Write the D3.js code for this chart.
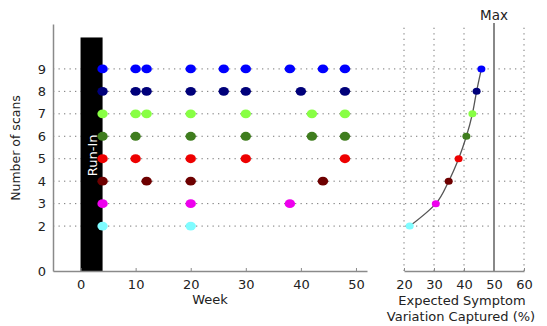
<!DOCTYPE html>
<html>
<head>
<meta charset="utf-8">
<script src="https://cdn.jsdelivr.net/npm/d3@7"></script>
<style>
  body { margin: 0; background: #fff; }
  text { font-family: "DejaVu Sans", sans-serif; fill: #222; }
</style>
</head>
<body>
<div id="chart"></div>
<script>
const width = 547;
const height = 326;

// data
const scanCounts = [9, 8, 7, 6, 5, 4, 3, 2];
const scanWeeks = [
    [4, 10, 12, 20, 26, 30, 38, 44, 48],
    [4, 10, 12, 20, 26, 30, 40, 48],
    [4, 10, 12, 20, 30, 42, 48],
    [4, 10, 20, 30, 42, 48],
    [4, 10, 20, 30, 48],
    [4, 12, 20, 44],
    [4, 20, 38],
    [4, 20]
];
const scanColors = ["#0000ff", "#00007a", "#88ff44", "#3f7d1e", "#ee0000", "#6e0000", "#ee00ee", "#7ffcff"];
const variationCaptured = [45.8, 44.2, 42.8, 40.8, 38.2, 34.9, 30.6, 21.9];
const runIn = { start: 0, end: 4, top: 10.4 };
const maxVariation = 50;
const weekTicks = [0, 10, 20, 30, 40, 50];
const scanTicks = [0, 2, 3, 4, 5, 6, 7, 8, 9];
const pctTicks = [20, 30, 40, 50, 60];
const pctGrid = [20, 30, 40, 60];

const svg = d3.select("#chart")
    .append("svg")
    .attr("width", width)
    .attr("height", height);

const x = d3.scaleLinear().domain([-5, 52]).range([53, 367]);
const y = d3.scaleLinear().domain([0, 11]).range([271, 24]);
const xPct = d3.scaleLinear().domain([20, 60]).range([404, 524]);

const axisColor = "#8a8a8a";
const dotted = "1.3,4.2";

// horizontal dotted grid across both panels
svg.append("g")
    .selectAll("line")
    .data(scanCounts)
    .join("line")
    .attr("x1", x.range()[0])
    .attr("x2", xPct.range()[1])
    .attr("y1", d => y(d))
    .attr("y2", d => y(d))
    .attr("stroke", "#777")
    .attr("stroke-width", 1)
    .attr("stroke-dasharray", dotted);

// vertical dotted grid on the right panel
svg.append("g")
    .selectAll("line")
    .data(pctGrid)
    .join("line")
    .attr("x1", d => xPct(d))
    .attr("x2", d => xPct(d))
    .attr("y1", y(0))
    .attr("y2", y(11))
    .attr("stroke", "#777")
    .attr("stroke-width", 1)
    .attr("stroke-dasharray", dotted);

// run-in bar
svg.append("rect")
    .attr("x", x(runIn.start))
    .attr("y", y(runIn.top))
    .attr("width", x(runIn.end) - x(runIn.start))
    .attr("height", y(0) - y(runIn.top))
    .attr("fill", "#000");

svg.append("text")
    .attr("transform", `translate(${(x(runIn.start) + x(runIn.end)) / 2 + 5},${y(5.15)}) rotate(-90)`)
    .attr("text-anchor", "middle")
    .style("font-size", "13px")
    .style("fill", "#fff")
    .text("Run-In");

// axes
function styleAxis(g) {
    g.select(".domain").attr("stroke", axisColor).attr("stroke-width", 1.5);
    g.selectAll(".tick line").attr("stroke", axisColor);
    g.selectAll(".tick text").style("font-size", "13px").style("fill", "#222")
        .style("font-family", "'DejaVu Sans', sans-serif");
}

svg.append("g")
    .attr("transform", `translate(0,${y(0)})`)
    .call(d3.axisBottom(x).tickValues(weekTicks).tickSizeInner(-3).tickSizeOuter(0).tickPadding(9))
    .call(styleAxis);

svg.append("g")
    .attr("transform", `translate(${x.range()[0]},0)`)
    .call(d3.axisLeft(y).tickValues(scanTicks).tickSize(0).tickPadding(7))
    .call(styleAxis);

svg.append("g")
    .attr("transform", `translate(0,${y(0)})`)
    .call(d3.axisBottom(xPct).tickValues(pctTicks).tickSizeInner(-3).tickSizeOuter(0).tickPadding(9))
    .call(styleAxis);

// scan schedule dots
scanCounts.forEach((s, i) => {
    svg.append("g")
        .selectAll("ellipse")
        .data(scanWeeks[i])
        .join("ellipse")
        .attr("cx", d => x(d))
        .attr("cy", y(s))
        .attr("rx", 5.2)
        .attr("ry", 4.4)
        .attr("fill", scanColors[i]);
});

// max line
svg.append("line")
    .attr("x1", xPct(maxVariation))
    .attr("x2", xPct(maxVariation))
    .attr("y1", y(0))
    .attr("y2", y(11.05))
    .attr("stroke", "#888")
    .attr("stroke-width", 2);

svg.append("text")
    .attr("x", xPct(maxVariation))
    .attr("y", 20)
    .attr("text-anchor", "middle")
    .style("font-size", "13.5px")
    .text("Max");

// expected variation curve
const curvePts = scanCounts.map((s, i) => ({ s, v: variationCaptured[i] }));

svg.append("path")
    .datum(curvePts)
    .attr("fill", "none")
    .attr("stroke", "#555")
    .attr("stroke-width", 1.3)
    .attr("d", d3.line()
        .x(d => xPct(d.v))
        .y(d => y(d.s))
        .curve(d3.curveMonotoneY));

svg.append("g")
    .selectAll("ellipse")
    .data(curvePts)
    .join("ellipse")
    .attr("cx", d => xPct(d.v))
    .attr("cy", d => y(d.s))
    .attr("rx", 4)
    .attr("ry", 3.5)
    .attr("fill", (d, i) => scanColors[i]);

// labels
svg.append("text")
    .attr("x", (x.range()[0] + x.range()[1]) / 2)
    .attr("y", 304)
    .attr("text-anchor", "middle")
    .style("font-size", "13px")
    .text("Week");

svg.append("text")
    .attr("transform", `translate(20,${148}) rotate(-90)`)
    .attr("text-anchor", "middle")
    .style("font-size", "12.5px")
    .text("Number of scans");

svg.append("text")
    .attr("x", 462)
    .attr("y", 305)
    .attr("text-anchor", "middle")
    .style("font-size", "13px")
    .text("Expected Symptom");

svg.append("text")
    .attr("x", 461)
    .attr("y", 321)
    .attr("text-anchor", "middle")
    .style("font-size", "13px")
    .text("Variation Captured (%)");
</script>
</body>
</html>
